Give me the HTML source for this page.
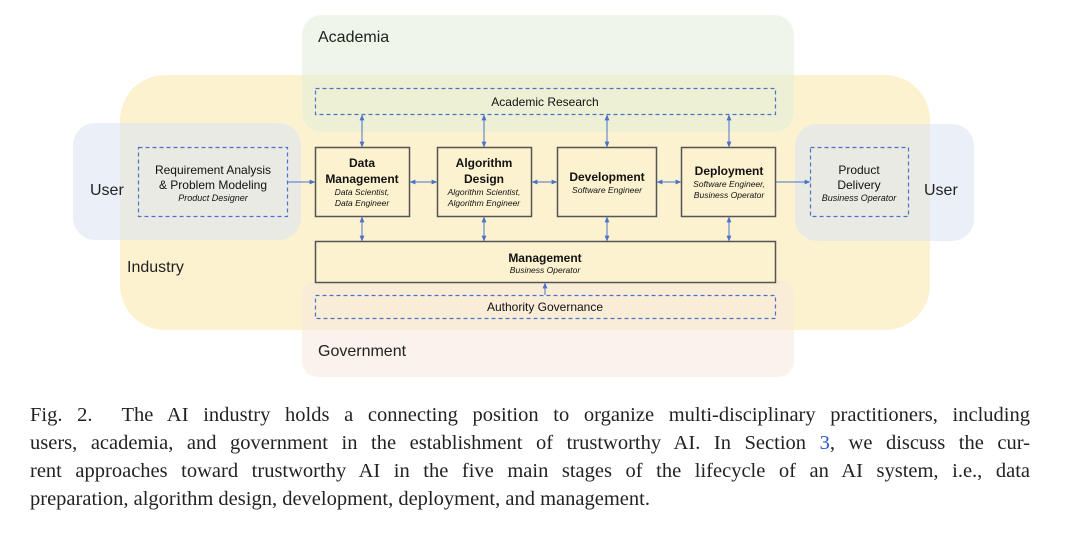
<!DOCTYPE html>
<html><head><meta charset="utf-8"><style>
body{margin:0;background:#fff;width:1080px;height:537px;overflow:hidden;position:relative;font-family:"Liberation Sans",sans-serif}
svg{position:absolute;left:0;top:0}
.cap{position:absolute;left:30px;top:401px;width:1000px;font-family:"Liberation Serif",serif;font-size:20.5px;line-height:28px;color:#222}
.cap div{text-align:justify;text-align-last:justify;white-space:nowrap}
.cap div.l{text-align-last:left}
.cap a{color:#2a56c6}
</style></head><body>
<svg width="1080" height="400" xmlns="http://www.w3.org/2000/svg">
<defs>
<marker id="a" viewBox="0 0 10 10" refX="9" refY="5" markerWidth="6" markerHeight="6" orient="auto-start-reverse"><path d="M0,1 L10,5 L0,9z" fill="#4a72c9"/></marker>
</defs>
<rect x="120" y="75" width="810" height="255" rx="45" fill="#fdf2cf"/>
<rect x="302" y="15" width="492" height="117" rx="20" fill="#e4efd9" fill-opacity="0.6"/>
<rect x="302" y="280" width="492" height="97" rx="16" fill="#f7e9dd" fill-opacity="0.6"/>
<rect x="73" y="123" width="228" height="117" rx="22" fill="#dde4f4" fill-opacity="0.6"/>
<rect x="795" y="124" width="179" height="117" rx="22" fill="#dde4f4" fill-opacity="0.6"/>
<g font-size="16" fill="#222">
<text x="318" y="42">Academia</text>
<text x="127" y="272">Industry</text>
<text x="318" y="356">Government</text>
<text x="90" y="195">User</text>
<text x="924" y="195">User</text>
</g>
<g fill="none" stroke="#4a72c9" stroke-width="1.2" stroke-dasharray="4,3">
<rect x="315.5" y="88.5" width="460" height="26"/>
<rect x="138.5" y="147.5" width="149" height="69"/>
<rect x="810.5" y="147.5" width="98" height="69"/>
<rect x="315.5" y="295.5" width="460" height="23"/>
</g>
<g fill="#fdf2cf" stroke="#555" stroke-width="1.5">
<rect x="315.5" y="147.5" width="94" height="69"/>
<rect x="437.5" y="147.5" width="94" height="69"/>
<rect x="557.5" y="147.5" width="99" height="69"/>
<rect x="681.5" y="147.5" width="94" height="69"/>
<rect x="315.5" y="241.5" width="460" height="41"/>
</g>
<g stroke="#4a72c9" stroke-width="1" marker-start="url(#a)" marker-end="url(#a)">
<line x1="362" y1="115" x2="362" y2="147"/>
<line x1="484" y1="115" x2="484" y2="147"/>
<line x1="607" y1="115" x2="607" y2="147"/>
<line x1="729" y1="115" x2="729" y2="147"/>
<line x1="362" y1="217" x2="362" y2="241"/>
<line x1="484" y1="217" x2="484" y2="241"/>
<line x1="607" y1="217" x2="607" y2="241"/>
<line x1="729" y1="217" x2="729" y2="241"/>
<line x1="410" y1="182" x2="437" y2="182"/>
<line x1="532" y1="182" x2="557" y2="182"/>
<line x1="657" y1="182" x2="681" y2="182"/>
</g>
<g stroke="#4a72c9" stroke-width="1" marker-end="url(#a)">
<line x1="288" y1="182" x2="315" y2="182"/>
<line x1="776" y1="182" x2="810" y2="182"/>
<line x1="545" y1="295" x2="545" y2="283"/>
</g>
<g text-anchor="middle" fill="#111">
<text x="545" y="106" font-size="12">Academic Research</text>
<text x="545" y="311" font-size="12">Authority Governance</text>
<text x="213" y="174" font-size="12">Requirement Analysis</text>
<text x="213" y="189" font-size="12">&amp; Problem Modeling</text>
<text x="213" y="201" font-size="9" font-style="italic">Product Designer</text>
<text x="859" y="174" font-size="12">Product</text>
<text x="859" y="189" font-size="12">Delivery</text>
<text x="859" y="201" font-size="9" font-style="italic">Business Operator</text>
<g font-size="12" font-weight="bold">
<text x="362" y="167">Data</text>
<text x="362" y="183">Management</text>
<text x="484" y="167">Algorithm</text>
<text x="484" y="183">Design</text>
<text x="607" y="181">Development</text>
<text x="729" y="175">Deployment</text>
<text x="545" y="262">Management</text>
</g>
<g font-size="8.5" font-style="italic">
<text x="362" y="195">Data Scientist,</text>
<text x="362" y="206">Data Engineer</text>
<text x="484" y="195">Algorithm Scientist,</text>
<text x="484" y="206">Algorithm Engineer</text>
<text x="607" y="193">Software Engineer</text>
<text x="729" y="187">Software Engineer,</text>
<text x="729" y="198">Business Operator</text>
<text x="545" y="273">Business Operator</text>
</g>
</g>
</svg>
<div class="cap">
<div>Fig. 2.&nbsp; The AI industry holds a connecting position to organize multi-disciplinary practitioners, including</div>
<div>users, academia, and government in the establishment of trustworthy AI. In Section <a>3</a>, we discuss the cur-</div>
<div>rent approaches toward trustworthy AI in the five main stages of the lifecycle of an AI system, i.e., data</div>
<div class="l">preparation, algorithm design, development, deployment, and management.</div>
</div>
</body></html>
